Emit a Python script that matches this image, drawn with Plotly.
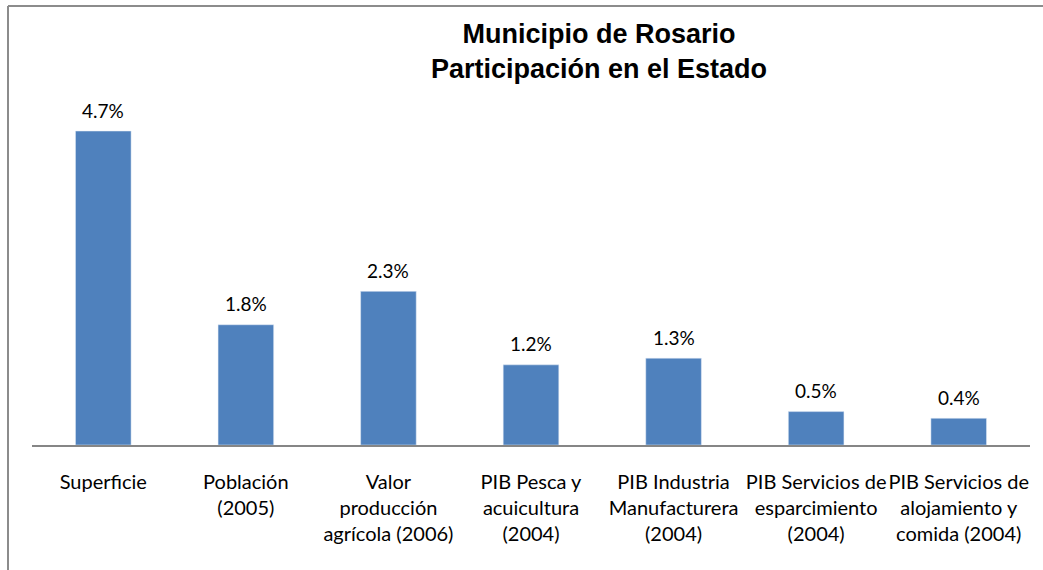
import plotly.graph_objects as go

categories = ["Superficie", "Población<br>(2005)", "Valor<br>producción<br>agrícola (2006)",
              "PIB Pesca y<br>acuicultura<br>(2004)", "PIB Industria<br>Manufacturera<br>(2004)",
              "PIB Servicios de<br>esparcimiento<br>(2004)", "PIB Servicios de<br>alojamiento y<br>comida (2004)"]
values = [4.7, 1.8, 2.3, 1.2, 1.3, 0.5, 0.4]
labels = [f"{v:.1f}%" for v in values]

W, H = 1043, 570
ml, mr, mt, mb = 32, 13, 100, 125
FONT = "Lato, Liberation Sans, Arial"
xs = list(range(len(categories)))

fig = go.Figure(go.Bar(
    x=xs, y=values, marker=dict(color="#4F81BD"), cliponaxis=False, width=0.39, hoverinfo="skip",
))

for x, v, t in zip(xs, values, labels):
    fig.add_annotation(x=x, y=v, text=t, showarrow=False, yanchor="middle", yshift=21,
                       font=dict(family=FONT, size=19, color="#000000"))

fig.update_layout(
    width=W, height=H, margin=dict(l=ml, r=mr, t=mt, b=mb, autoexpand=False),
    paper_bgcolor="white", plot_bgcolor="white", showlegend=False,
    title=dict(text="<b>Municipio de Rosario<br>Participación en el Estado</b>",
               x=599 / W, xanchor="center", y=1 - 43 / H, yanchor="middle",
               font=dict(family="Liberation Sans, Arial", size=27, color="#000000")),
    xaxis=dict(tickmode="array", tickvals=xs, ticktext=categories,
               range=[-0.5, len(categories) - 0.5], showline=True, linecolor="#868686", linewidth=2,
               ticks="", showgrid=False, zeroline=False, ticklabelstandoff=18, tickangle=0,
               automargin=False,
               tickfont=dict(family=FONT, size=20, color="#000000")),
    yaxis=dict(range=[0, (H - mb - mt) / 66.8], visible=False, showgrid=False, zeroline=False,
               automargin=False),
    shapes=[
        dict(type="line", xref="paper", yref="paper", x0=(8 - ml) / (W - ml - mr), x1=(8 - ml) / (W - ml - mr),
             y0=(H - mb - 6) / (H - mt - mb), y1=-(mb + 5) / (H - mt - mb), line=dict(color="#8C8C8C", width=2)),
        dict(type="line", xref="paper", yref="paper", x0=(8 - ml) / (W - ml - mr), x1=(W + 5 - ml) / (W - ml - mr),
             y0=(H - mb - 6) / (H - mt - mb), y1=(H - mb - 6) / (H - mt - mb), line=dict(color="#8C8C8C", width=2)),
    ],
)

fig.write_html("out.html", config={"displayModeBar": False},
               post_script="document.body.style.margin='0';document.body.style.overflow='hidden';")
